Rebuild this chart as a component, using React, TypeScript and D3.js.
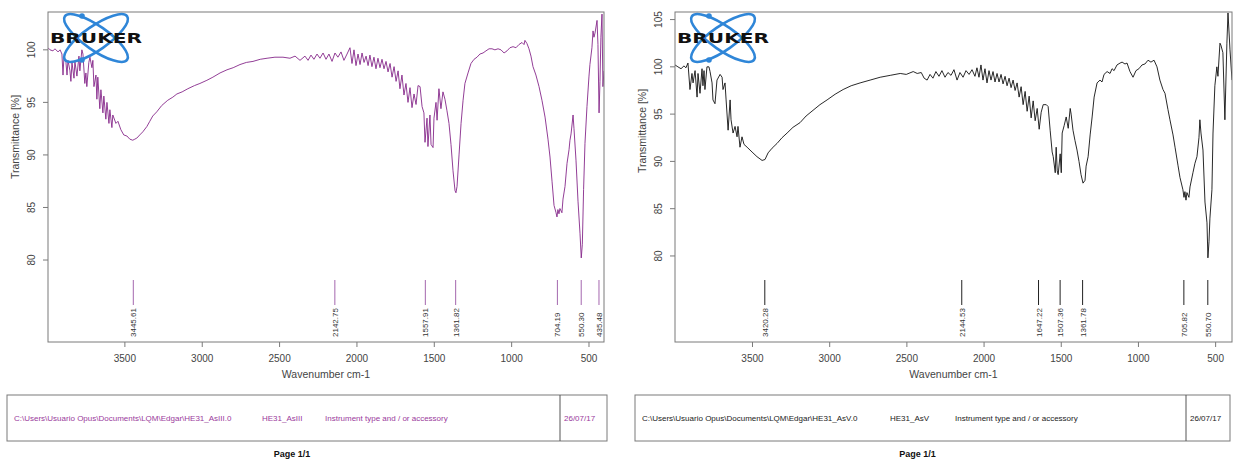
import React from "react";
import * as d3 from "d3";

// [wavenumber cm-1, transmittance %]
const leftSpectrum: [number, number][] = [
  [3997, 100.2], [3984, 100.0], [3965, 99.9], [3952, 100.1], [3932, 99.8], [3919, 100.0], [3907, 99.6],
  [3900, 97.6], [3894, 99.3], [3881, 98.8], [3874, 97.6], [3868, 99.0], [3855, 98.0], [3849, 97.0],
  [3842, 98.8], [3829, 97.3], [3823, 98.9], [3810, 97.5], [3797, 99.4], [3791, 98.0], [3778, 100.0],
  [3771, 99.6], [3759, 96.8], [3752, 97.8], [3746, 96.5], [3733, 98.8], [3726, 99.3], [3713, 98.3],
  [3707, 99.0], [3700, 96.5], [3687, 97.6], [3681, 95.3], [3675, 97.4], [3662, 94.4], [3655, 96.2],
  [3642, 94.0], [3636, 95.6], [3623, 93.4], [3616, 95.0], [3603, 93.0], [3597, 94.3], [3584, 92.6],
  [3578, 93.8], [3558, 93.0], [3545, 93.2], [3526, 92.4], [3507, 91.9], [3487, 91.8], [3468, 91.5],
  [3449, 91.4], [3436, 91.5], [3423, 91.6], [3404, 91.9], [3384, 92.2], [3358, 92.7], [3339, 93.2],
  [3320, 93.7], [3294, 94.1], [3262, 94.7], [3223, 95.2], [3190, 95.5], [3164, 95.8], [3130, 96.0],
  [3093, 96.3], [3050, 96.6], [3015, 96.8], [2970, 97.1], [2931, 97.4], [2885, 97.8], [2840, 98.1],
  [2800, 98.3], [2756, 98.6], [2715, 98.8], [2672, 98.9], [2625, 99.1], [2581, 99.2], [2530, 99.3],
  [2478, 99.3], [2433, 99.2], [2400, 99.4], [2368, 99.0],
  [2336, 99.4], [2316, 99.0], [2297, 99.5], [2278, 99.1], [2258, 99.6], [2239, 99.2], [2219, 99.7],
  [2200, 99.1], [2181, 99.6], [2161, 98.9], [2142, 99.7], [2123, 99.3], [2103, 99.8], [2084, 99.0],
  [2064, 99.6], [2045, 100.2], [2032, 98.7], [2019, 100.0], [2006, 98.5], [1993, 99.6], [1980, 98.6],
  [1967, 99.7], [1954, 98.8], [1941, 99.4], [1928, 98.5], [1916, 99.5], [1903, 98.4], [1890, 99.3],
  [1877, 98.2], [1864, 99.2], [1851, 98.3], [1838, 99.1], [1825, 98.2], [1812, 98.9], [1799, 97.9],
  [1786, 98.7], [1773, 97.4], [1760, 98.4], [1747, 97.0], [1734, 98.0], [1722, 96.3], [1709, 97.6],
  [1696, 95.7], [1683, 96.8], [1670, 95.0], [1657, 96.4], [1644, 94.5], [1631, 95.8], [1618, 94.8],
  [1605, 96.6], [1592, 96.5], [1579, 94.6], [1567, 94.0], [1560, 91.2], [1547, 93.5], [1541, 90.8],
  [1528, 93.8], [1521, 91.0], [1508, 90.7], [1502, 93.5], [1489, 95.0], [1482, 93.3], [1470, 96.3],
  [1457, 94.4], [1444, 96.0], [1431, 95.3], [1418, 94.2], [1405, 93.0], [1392, 91.0], [1379, 88.5],
  [1366, 86.6], [1360, 86.4], [1353, 87.0], [1340, 90.0], [1327, 93.0], [1314, 95.2], [1302, 96.8],
  [1282, 97.8], [1263, 98.7], [1243, 99.1], [1224, 99.3], [1205, 99.6], [1185, 99.7], [1166, 99.9],
  [1146, 100.1], [1127, 100.1], [1108, 100.0], [1088, 100.1], [1069, 100.0], [1049, 99.7], [1030, 99.9],
  [1011, 100.2], [991, 100.3], [972, 100.2], [953, 100.5], [933, 100.7], [920, 100.5], [914, 100.9],
  [901, 100.6], [888, 100.1], [875, 99.4], [862, 98.4], [843, 97.6], [823, 96.5], [804, 95.2],
  [784, 93.6], [765, 91.5], [752, 89.8], [739, 87.5], [726, 85.2], [713, 84.5], [707, 84.1],
  [701, 84.8], [694, 84.4], [688, 84.9], [675, 84.5], [668, 85.8], [655, 87.0], [642, 89.2],
  [629, 90.5], [623, 91.4], [616, 92.0], [603, 93.8], [597, 92.5], [584, 89.5], [571, 85.6],
  [558, 82.5], [550, 80.2], [543, 81.5], [535, 86.7], [526, 91.1], [513, 94.6], [500, 97.5],
  [494, 98.6], [481, 100.2], [474, 101.8], [468, 101.2], [461, 101.6], [448, 102.8], [442, 100.5],
  [435, 94.0], [429, 97.0], [423, 101.2], [416, 103.4], [410, 96.5], [403, 98.0],
];

const rightSpectrum: [number, number][] = [
  [4002, 100.2], [3983, 100.0], [3963, 99.8], [3944, 100.1], [3931, 99.9], [3918, 100.4], [3905, 97.6],
  [3892, 99.3], [3885, 98.3], [3872, 99.6], [3859, 96.8], [3853, 99.3], [3840, 97.2], [3827, 99.8],
  [3821, 98.0], [3814, 99.6], [3808, 97.6], [3795, 100.0], [3782, 100.0], [3775, 99.5], [3762, 98.3],
  [3756, 96.5], [3743, 96.1], [3730, 98.6], [3710, 99.2], [3697, 98.9], [3691, 97.6], [3678, 98.3],
  [3671, 96.5], [3658, 93.3], [3645, 96.5], [3639, 94.4], [3626, 93.0], [3613, 93.7], [3600, 92.6],
  [3594, 93.7], [3581, 91.5], [3568, 92.6], [3555, 91.8], [3535, 91.5], [3516, 91.2], [3497, 90.9],
  [3471, 90.5], [3438, 90.1], [3419, 90.2], [3399, 90.9], [3373, 91.4], [3341, 91.9], [3309, 92.5],
  [3276, 93.0], [3238, 93.6], [3192, 94.1], [3153, 94.8], [3108, 95.4], [3063, 96.0], [3017, 96.5],
  [2965, 97.1], [2913, 97.6], [2861, 98.0], [2803, 98.3], [2738, 98.6], [2673, 98.9], [2608, 99.1],
  [2543, 99.3], [2504, 99.2], [2459, 99.5], [2433, 99.3], [2407, 99.4], [2388, 98.8], [2369, 98.6],
  [2350, 99.2], [2331, 98.8], [2312, 99.5], [2292, 99.0], [2273, 99.6], [2253, 98.9], [2234, 99.4],
  [2214, 99.1], [2195, 99.7], [2175, 98.6], [2156, 99.4], [2136, 98.9], [2117, 99.6], [2097, 99.2],
  [2078, 99.7], [2059, 99.0], [2046, 99.9], [2033, 98.9], [2020, 100.2], [2007, 98.6], [1994, 99.8],
  [1981, 98.3], [1968, 99.6], [1955, 98.6], [1942, 99.5], [1929, 98.4], [1916, 99.3], [1903, 98.4],
  [1890, 99.2], [1877, 98.2], [1864, 99.0], [1851, 98.0], [1838, 98.8], [1825, 97.8], [1812, 98.6],
  [1799, 97.5], [1786, 98.3], [1773, 96.8], [1760, 97.9], [1747, 96.0], [1734, 97.4], [1721, 95.3],
  [1708, 96.9], [1695, 94.6], [1682, 96.4], [1669, 94.3], [1656, 95.6], [1643, 93.4], [1630, 95.2],
  [1617, 96.0], [1597, 96.0], [1585, 95.8], [1572, 93.3], [1559, 91.0], [1552, 90.5], [1539, 88.8],
  [1533, 91.5], [1526, 89.0], [1520, 88.6], [1507, 90.8], [1500, 88.8], [1494, 93.0], [1481, 93.8],
  [1468, 94.7], [1455, 93.5], [1442, 95.6], [1436, 95.0], [1424, 93.3], [1411, 92.2], [1398, 91.2],
  [1385, 90.0], [1372, 88.6], [1359, 87.7], [1346, 88.0], [1339, 89.5], [1326, 90.5], [1313, 92.8],
  [1300, 94.7], [1287, 96.8], [1268, 98.3], [1249, 98.6], [1236, 98.4], [1223, 99.2], [1203, 99.5],
  [1184, 99.3], [1171, 99.8], [1158, 99.6], [1139, 100.2], [1119, 100.4], [1106, 100.5], [1087, 100.3],
  [1074, 100.4], [1055, 99.5], [1035, 98.9], [1016, 99.6], [997, 99.8], [977, 100.2], [958, 100.3],
  [938, 100.7], [919, 100.5], [899, 100.7], [880, 100.0], [861, 98.6], [841, 97.6], [828, 97.2],
  [809, 95.5], [796, 94.4], [776, 92.8], [763, 91.5], [744, 89.6], [731, 88.3], [712, 87.0],
  [705, 86.2], [699, 86.8], [692, 85.9], [686, 86.7], [673, 86.2], [666, 87.3], [647, 88.8],
  [634, 89.8], [621, 90.5], [608, 92.5], [602, 94.4], [595, 93.0], [582, 91.2], [569, 85.7],
  [556, 83.5], [550, 79.8], [543, 81.5], [537, 84.0], [524, 87.0], [517, 93.0], [505, 98.0],
  [492, 100.0], [485, 99.0], [472, 102.5], [466, 102.3], [453, 101.5], [440, 94.4], [427, 102.5],
  [420, 105.7], [407, 101.8], [394, 98.6],
];

const leftPeaks = [3445.61, 2142.75, 1557.91, 1361.82, 704.19, 550.3, 435.48];
const rightPeaks = [3420.28, 2144.53, 1647.22, 1507.36, 1361.78, 705.82, 550.7];
const wavenumberTicks = [3500, 3000, 2500, 2000, 1500, 1000, 500];
const leftTransTicks = [80, 85, 90, 95, 100];
const rightTransTicks = [80, 85, 90, 95, 100, 105];
const leftFooter = [
  "C:\\Users\\Usuario Opus\\Documents\\LQM\\Edgar\\HE31_AsIII.0",
  "HE31_AsIII",
  "Instrument type and / or accessory",
  "26/07/17",
];
const rightFooter = [
  "C:\\Users\\Usuario Opus\\Documents\\LQM\\Edgar\\HE31_AsV.0",
  "HE31_AsV",
  "Instrument type and / or accessory",
  "26/07/17",
];

const FONT = "'Liberation Sans', Arial, sans-serif";

type PanelProps = {
  id: string;
  left: number;
  right: number;
  xDomain: [number, number];
  yDomain: [number, number];
  spectrum: [number, number][];
  peaks: number[];
  yTicks: number[];
  lineColor: string;
  peakColor: string;
  footer: string[];
  footerColor: string;
  footerBox: [number, number, number];
  footerTextX: [number, number, number];
  yTitleY: number;
};

function Logo({ dx }: { dx: number }) {
  const blue = "#2f86d8";
  return (
    <g transform={`translate(${dx},0)`}>
      <ellipse cx={96} cy={38} rx={38} ry={12} transform="rotate(35 96 38)" fill="none" stroke={blue} strokeWidth={2.6} />
      <ellipse cx={96} cy={38} rx={38} ry={12} transform="rotate(-35 96 38)" fill="none" stroke={blue} strokeWidth={2.6} />
      <circle cx={82} cy={16} r={2.8} fill={blue} />
      <circle cx={82} cy={60} r={2.8} fill={blue} />
      <text x={50} y={43} fontFamily="'DejaVu Sans', Arial, sans-serif" fontWeight={900} fontSize={14}
        textLength={92} lengthAdjust="spacingAndGlyphs" fill="#111">BRUKER</text>
    </g>
  );
}

function Panel(p: PanelProps) {
  const top = 12;
  const bottom = 342;
  const x = d3.scaleLinear().domain(p.xDomain).range([p.left, p.right]);
  const y = d3.scaleLinear().domain(p.yDomain).range([bottom, top]);
  const line = d3.line<[number, number]>().x((d) => x(d[0])).y((d) => y(d[1]));
  const axisColor = "#7a7a7a";
  const textColor = "#444";
  const [bx0, bdiv, bx1] = p.footerBox;
  return (
    <g>
      <defs>
        <clipPath id={p.id}>
          <rect x={p.left} y={top} width={p.right - p.left} height={bottom - top} />
        </clipPath>
      </defs>
      <path d={line(p.spectrum) || ""} fill="none" stroke={p.lineColor} strokeWidth={0.9}
        strokeLinejoin="round" clipPath={`url(#${p.id})`} />
      <rect x={p.left} y={top} width={p.right - p.left} height={bottom - top} fill="none" stroke={axisColor} strokeWidth={1} />
      {wavenumberTicks.map((t) => (
        <g key={t}>
          <line x1={x(t)} x2={x(t)} y1={bottom} y2={bottom + 5} stroke={axisColor} />
          <text x={x(t)} y={bottom + 20} textAnchor="middle" fontSize={10} fontFamily={FONT} fill={textColor}>{t}</text>
        </g>
      ))}
      {p.yTicks.map((t) => (
        <g key={t}>
          <line x1={p.left - 5} x2={p.left} y1={y(t)} y2={y(t)} stroke={axisColor} />
          <text transform={`translate(${p.left - 13},${y(t)}) rotate(-90)`} textAnchor="middle" fontSize={10}
            fontFamily={FONT} fill={textColor}>{t}</text>
        </g>
      ))}
      <text x={(p.left + p.right) / 2} y={378} textAnchor="middle" fontSize={10.5} fontFamily={FONT} fill={textColor}>
        Wavenumber cm-1
      </text>
      <text transform={`translate(${p.left - 29},${p.yTitleY}) rotate(-90)`} textAnchor="middle" fontSize={10.5}
        fontFamily={FONT} fill={textColor}>Transmittance [%]</text>
      {p.peaks.map((pk) => (
        <g key={pk}>
          <line x1={x(pk)} x2={x(pk)} y1={280} y2={305} stroke={p.peakColor} strokeWidth={1} />
          <text transform={`translate(${x(pk) + 3},337) rotate(-90)`} textAnchor="start" fontSize={8}
            fontFamily={FONT} fill="#333">{pk.toFixed(2)}</text>
        </g>
      ))}
      <rect x={bx0} y={395} width={bx1 - bx0} height={46} fill="none" stroke={axisColor} strokeWidth={1} />
      <line x1={bdiv} x2={bdiv} y1={395} y2={441} stroke="#555" strokeWidth={1} />
      {p.footer.slice(0, 3).map((s, i) => (
        <text key={i} x={p.footerTextX[i]} y={421} fontSize={8} fontFamily={FONT} fill={p.footerColor}>{s}</text>
      ))}
      <text x={bdiv + 4} y={421} fontSize={8} fontFamily={FONT} fill={p.footerColor}>{p.footer[3]}</text>
      <text x={(bx0 + bx1) / 2 - 15} y={457} textAnchor="middle" fontSize={9} fontWeight="bold" fontFamily={FONT} fill="#111">
        Page 1/1
      </text>
    </g>
  );
}

export default function App() {
  return (
    <div style={{ position: "absolute", left: 0, top: 0 }}>
      <svg width={1233} height={460} style={{ display: "block", background: "#fff" }}>
        <rect x={0} y={0} width={1233} height={460} fill="#fff" />
        <Panel
          id="clipL"
          left={48}
          right={604}
          xDomain={[3997, 403]}
          yDomain={[72.2, 103.6]}
          spectrum={leftSpectrum}
          peaks={leftPeaks}
          yTicks={leftTransTicks}
          lineColor="#86288a"
          peakColor="#a467ae"
          footer={leftFooter}
          footerColor="#9a3a9c"
          footerBox={[7, 560, 607]}
          footerTextX={[14, 262, 325]}
          yTitleY={137}
        />
        <Panel
          id="clipR"
          left={675}
          right={1232}
          xDomain={[4002, 394]}
          yDomain={[70.9, 105.8]}
          spectrum={rightSpectrum}
          peaks={rightPeaks}
          yTicks={rightTransTicks}
          lineColor="#111"
          peakColor="#222"
          footer={rightFooter}
          footerColor="#222"
          footerBox={[635, 1186, 1230]}
          footerTextX={[642, 890, 955]}
          yTitleY={131}
        />
        <Logo dx={0} />
        <Logo dx={627} />
      </svg>
    </div>
  );
}
